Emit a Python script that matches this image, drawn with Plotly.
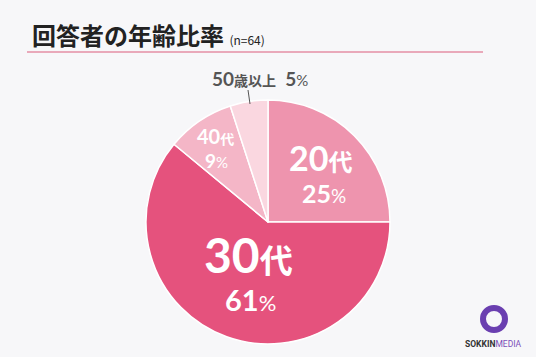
import plotly.graph_objects as go

categories = ["20代", "30代", "40代", "50歳以上"]
values = [25, 61, 9, 5]
colors = ["#EE94AE", "#E5527D", "#F4B6C7", "#FAD7E0"]

W, H = 536, 357
cx, cy, r = 268, 222, 122

fig = go.Figure()
fig.add_trace(go.Pie(
    labels=categories, values=values, sort=False, direction="clockwise", rotation=0,
    marker=dict(colors=colors, line=dict(color="#FFFFFF", width=1.5)),
    textinfo="none", hoverinfo="label+percent", showlegend=False,
    domain=dict(x=[(cx - r) / W, (cx + r) / W], y=[(H - cy - r) / H, (H - cy + r) / H]),
))

FONT = "Lato, Noto Sans CJK JP, sans-serif"
JP = "Noto Sans CJK JP, sans-serif"

def px(x, y):
    return x / W, 1 - y / H

ann = []
def add(x, y, text, size, color="#FFFFFF", family=FONT):
    ax, ay = px(x, y)
    ann.append(dict(x=ax, y=ay, xref="paper", yref="paper", text=text, showarrow=False,
                    font=dict(size=size, color=color, family=family), xanchor="center", yanchor="middle"))

def lab(cat):
    return cat[:2], cat[2:]

a, b = lab(categories[0])
add(320, 157, f"<b>{a}<span style='font-size:24px'>{b}</span></b>", 34)
add(324, 193, f"<b>{values[0]}</b><span style='font-size:19px'>%</span>", 25)
a, b = lab(categories[1])
add(248, 254, f"<b>{a}<span style='font-size:33px'>{b}</span></b>", 48)
add(250, 299, f"<b>{values[1]}</b><span style='font-size:22px'>%</span>", 29)
a, b = lab(categories[2])
add(215, 136, f"<b>{a}<span style='font-size:14px'>{b}</span></b>", 20)
add(216, 160, f"<b>{values[2]}</b><span style='font-size:15px'>%</span>", 19)
a, b = lab(categories[3])
add(260, 78, f"<b>{a}<span style='font-size:14px'>{b}</span>  {values[3]}</b><span style='font-size:15px'>%</span>", 19, color="#555555")

# title
ann.append(dict(x=30 / W, y=1 - 34 / H, xref="paper", yref="paper", xanchor="left", yanchor="middle",
                text="<b>回答者の年齢比率</b> <span style='font-size:12px'>(n=64)</span>", showarrow=False,
                font=dict(size=24, color="#222222", family=JP)))

# logo text
ann.append(dict(x=493 / W, y=1 - 344 / H, xref="paper", yref="paper", xanchor="center", yanchor="middle",
                text="<b>SOKKIN</b><span style='color:#7B4FB8'>MEDIA</span>", showarrow=False,
                font=dict(size=8.5, color="#333333", family="Roboto, sans-serif")))

shapes = [
    dict(type="line", xref="paper", yref="paper", x0=27 / W, x1=483 / W, y0=1 - 52 / H, y1=1 - 52 / H,
         line=dict(color="#E58FA5", width=1.5)),
    dict(type="line", xref="paper", yref="paper", x0=248 / W, x1=250 / W, y0=1 - 90 / H, y1=1 - 104 / H,
         line=dict(color="#555555", width=1)),
    dict(type="circle", xref="paper", yref="paper", x0=(494 - 11) / W, x1=(494 + 11) / W,
         y0=1 - (319 + 11) / H, y1=1 - (319 - 11) / H, line=dict(color="#6A3FB0", width=6)),
]

fig.update_layout(
    width=W, height=H, margin=dict(l=0, r=0, t=0, b=0),
    paper_bgcolor="#F7F7F9", plot_bgcolor="#F7F7F9",
    annotations=ann, shapes=shapes,
)
fig.write_html("out.html", config={"displayModeBar": False},
               post_script="document.body.style.margin='0';document.body.style.background='#F7F7F9';")
